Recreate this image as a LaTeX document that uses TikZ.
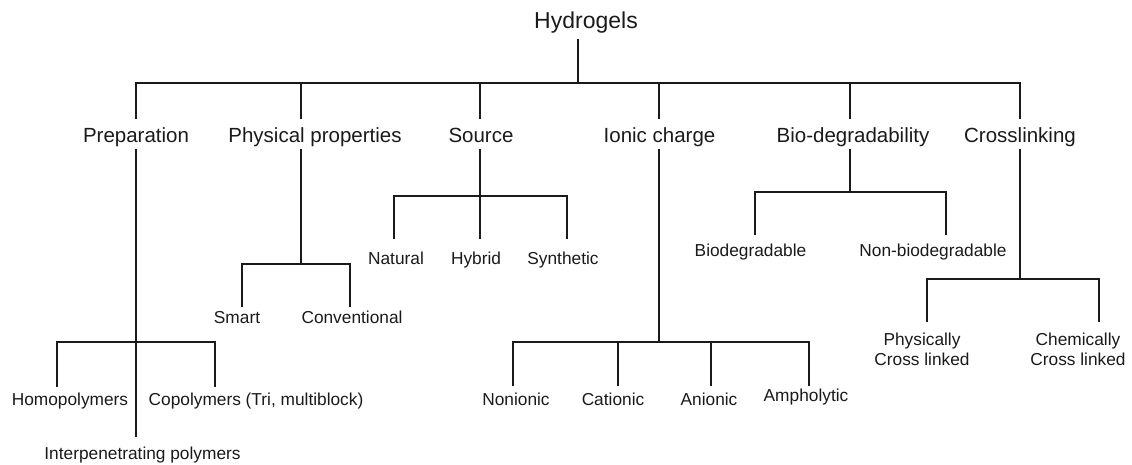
\documentclass[tikz,border=0pt]{standalone}
\usepackage{fontspec}
\setmainfont{Liberation Sans}
\definecolor{ink}{HTML}{1A1A1A}
\begin{document}
\begin{tikzpicture}[x=1pt,y=-1pt,
  conn/.style={draw=ink,line width=2.6pt,line join=miter},
  rootlab/.style={font=\fontsize{23}{27}\selectfont,text=ink,inner sep=0pt,anchor=base,text depth=11pt},
  catlab/.style={font=\fontsize{20.5}{24}\selectfont,text=ink,inner sep=0pt,anchor=base,text height=23pt,text depth=7pt},
  leaflab/.style={font=\fontsize{17.3}{20}\selectfont,text=ink,inner sep=0pt,anchor=base,text height=#1,text depth=4pt},
  twolab/.style={font=\fontsize{17.3}{20}\selectfont,text=ink,inner xsep=0pt,inner ysep=11pt,anchor=north,align=center}]
\useasboundingbox (0,0) rectangle (1132,464);
% root
\node[rootlab] (hyd) at (586,28) {Hydrogels};
\coordinate (top) at (578,83);
% categories
\node[catlab] (prep)  at (136,142) {Preparation};
\node[catlab] (phys)  at (315,142) {Physical properties};
\node[catlab] (src)   at (481,142) {Source};
\node[catlab] (ion)   at (659.5,142) {Ionic charge};
\node[catlab] (bio)   at (853,142) {Bio-degradability};
\node[catlab] (cross) at (1020,142) {Crosslinking};
\coordinate (c1) at (136,83);
\coordinate (c2) at (301,83);
\coordinate (c3) at (480,83);
\coordinate (c4) at (659,83);
\coordinate (c5) at (850,83);
\coordinate (c6) at (1020,83);
\draw[conn] (hyd.south -| top) -- (top);
\draw[conn] (c1 |- prep.north) -- (c1) -- (c6) -- (c6 |- cross.north);
\draw[conn] (c2) -- (c2 |- phys.north);
\draw[conn] (c3) -- (c3 |- src.north);
\draw[conn] (c4) -- (c4 |- ion.north);
\draw[conn] (c5) -- (c5 |- bio.north);
% Preparation
\node[leaflab=18pt] (homo) at (70,405) {Homopolymers};
\node[leaflab=18pt] (copo) at (256,405) {Copolymers (Tri, multiblock)};
\node[leaflab=22pt] (inter) at (142.5,459) {Interpenetrating polymers};
\coordinate (p1) at (57,342);
\coordinate (p2) at (215,342);
\draw[conn] (prep.south -| c1) -- (c1 |- inter.north);
\draw[conn] (p1 |- homo.north) -- (p1) -- (p2) -- (p2 |- copo.north);
% Physical properties
\node[leaflab=16pt] (smart) at (237,323) {Smart};
\node[leaflab=16pt] (conv) at (352,323) {Conventional};
\coordinate (jp) at (301,264);
\coordinate (jp1) at (242,264);
\coordinate (jp2) at (350,264);
\draw[conn] (phys.south -| jp) -- (jp);
\draw[conn] (jp1 |- smart.north) -- (jp1) -- (jp2) -- (jp2 |- conv.north);
% Source
\node[leaflab=25pt] (nat) at (396,264) {Natural};
\node[leaflab=25pt] (hyb) at (476,264) {Hybrid};
\node[leaflab=25pt] (syn) at (563,264) {Synthetic};
\coordinate (js) at (480,196);
\coordinate (js1) at (394,196);
\coordinate (js2) at (567,196);
\draw[conn] (src.south -| js) -- (js |- hyb.north);
\draw[conn] (js1 |- nat.north) -- (js1) -- (js2) -- (js2 |- syn.north);
% Ionic charge
\node[leaflab=19pt] (non) at (516,405) {Nonionic};
\node[leaflab=19pt] (cat) at (613,405) {Cationic};
\node[leaflab=19pt] (ani) at (709,405) {Anionic};
\node[leaflab=15pt] (amp) at (806,401) {Ampholytic};
\coordinate (ji) at (659,342);
\coordinate (ji1) at (513,342);
\coordinate (ji2) at (618,342);
\coordinate (ji3) at (711,342);
\coordinate (ji4) at (809,342);
\draw[conn] (ion.south -| ji) -- (ji);
\draw[conn] (ji1 |- non.north) -- (ji1) -- (ji4) -- (ji4 |- amp.north);
\draw[conn] (ji2) -- (ji2 |- cat.north);
\draw[conn] (ji3) -- (ji3 |- ani.north);
% Bio-degradability
\node[leaflab=21pt] (biod) at (750.5,256) {Biodegradable};
\node[leaflab=21pt] (nbiod) at (933,256) {Non-biodegradable};
\coordinate (jb) at (850,192);
\coordinate (jb1) at (755,192);
\coordinate (jb2) at (946,192);
\draw[conn] (bio.south -| jb) -- (jb);
\draw[conn] (jb1 |- biod.north) -- (jb1) -- (jb2) -- (jb2 |- nbiod.north);
% Crosslinking
\node[twolab] (phyx) at (922,322) {Physically\\Cross linked};
\node[twolab] (chex) at (1078,322) {Chemically\\Cross linked};
\coordinate (jc) at (1020,279);
\coordinate (jc1) at (927,279);
\coordinate (jc2) at (1099,279);
\draw[conn] (cross.south -| jc) -- (jc);
\draw[conn] (jc1 |- phyx.north) -- (jc1) -- (jc2) -- (jc2 |- chex.north);
\end{tikzpicture}
\end{document}
